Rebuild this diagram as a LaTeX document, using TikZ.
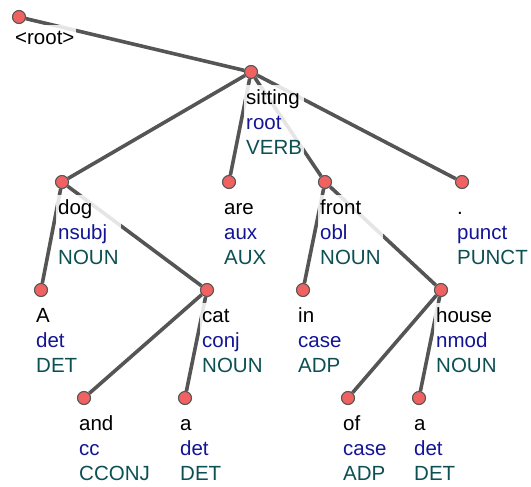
\documentclass[tikz,border=0pt]{standalone}
\usepackage{fontspec}
\setmainfont{Liberation Sans}
\usetikzlibrary{backgrounds}
\definecolor{dotred}{RGB}{240,98,98}
\definecolor{edgegray}{RGB}{85,85,85}
\definecolor{relblue}{RGB}{20,20,150}
\definecolor{posteal}{RGB}{12,80,84}

\begin{document}
\begin{tikzpicture}[
  x=1pt, y=-1pt,
  dot/.style={circle, draw=edgegray, line width=1.1pt, fill=dotred, minimum size=13pt, inner sep=0pt},
  word/.style={anchor=north west, align=left, inner sep=2pt, fill=white, fill opacity=0.85, text opacity=1,
               font=\fontsize{20.5}{25}\selectfont},
  arc/.style={draw=edgegray, line width=3.6pt}
]
  \useasboundingbox (0,0) rectangle (531,487);

  % tokens
  \node[dot] (root)    at (19,17)  {};
  \node[dot] (sitting) at (251,72) {};
  \node[dot] (dog)     at (62,182)  {};
  \node[dot] (are)     at (229,182) {};
  \node[dot] (front)   at (325,182) {};
  \node[dot] (punct)   at (462,182) {};
  \node[dot] (A)       at (41,290)  {};
  \node[dot] (cat)     at (207,290) {};
  \node[dot] (in)      at (303,290) {};
  \node[dot] (house)   at (441,290) {};
  \node[dot] (and)     at (84,398)  {};
  \node[dot] (a1)      at (185,398) {};
  \node[dot] (of)      at (348,398) {};
  \node[dot] (a2)      at (419,398) {};

  \begin{scope}[on background layer]
    % dependency arcs
    \draw[arc] (root) -- (sitting);
    \draw[arc] (sitting) -- (dog);
    \draw[arc] (sitting) -- (are);
    \draw[arc] (sitting) -- (front);
    \draw[arc] (sitting) -- (punct);
    \draw[arc] (dog) -- (A);
    \draw[arc] (dog) -- (cat);
    \draw[arc] (cat) -- (and);
    \draw[arc] (cat) -- (a1);
    \draw[arc] (front) -- (in);
    \draw[arc] (front) -- (house);
    \draw[arc] (house) -- (of);
    \draw[arc] (house) -- (a2);

    % word / relation / tag
    \node[word] (root-l) at (13,24.5) {\strut<root>};
    \node[word] (sitting-l) at (244,84.5) {\strut sitting\\\textcolor{relblue}{root}\\\textcolor{posteal}{VERB}};
    \node[word] (dog-l) at (56,194.5) {\strut dog\\\textcolor{relblue}{nsubj}\\\textcolor{posteal}{NOUN}};
    \node[word] (are-l) at (222,194.5) {\strut are\\\textcolor{relblue}{aux}\\\textcolor{posteal}{AUX}};
    \node[word] (front-l) at (318,194.5) {\strut front\\\textcolor{relblue}{obl}\\\textcolor{posteal}{NOUN}};
    \node[word] (punct-l) at (455,194.5) {\strut .\\\textcolor{relblue}{punct}\\\textcolor{posteal}{PUNCT}};
    \node[word] (A-l) at (34,302.5) {\strut A\\\textcolor{relblue}{det}\\\textcolor{posteal}{DET}};
    \node[word] (cat-l) at (200,302.5) {\strut cat\\\textcolor{relblue}{conj}\\\textcolor{posteal}{NOUN}};
    \node[word] (in-l) at (296,302.5) {\strut in\\\textcolor{relblue}{case}\\\textcolor{posteal}{ADP}};
    \node[word] (house-l) at (434,302.5) {\strut house\\\textcolor{relblue}{nmod}\\\textcolor{posteal}{NOUN}};
    \node[word] (and-l) at (77,410.5) {\strut and\\\textcolor{relblue}{cc}\\\textcolor{posteal}{CCONJ}};
    \node[word] (a1-l) at (178,410.5) {\strut a\\\textcolor{relblue}{det}\\\textcolor{posteal}{DET}};
    \node[word] (of-l) at (341,410.5) {\strut of\\\textcolor{relblue}{case}\\\textcolor{posteal}{ADP}};
    \node[word] (a2-l) at (412,410.5) {\strut a\\\textcolor{relblue}{det}\\\textcolor{posteal}{DET}};
  \end{scope}
\end{tikzpicture}
\end{document}
